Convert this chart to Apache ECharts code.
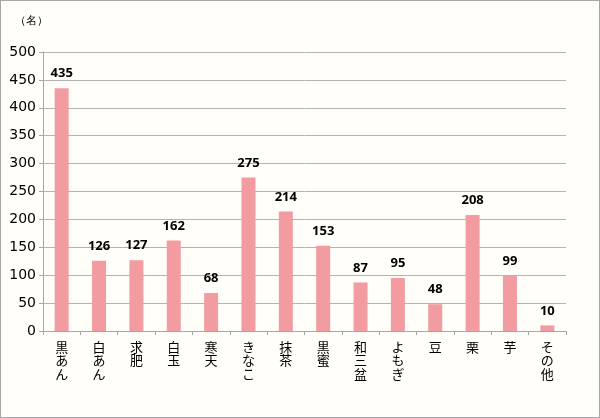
<!DOCTYPE html>
<html><head><meta charset="utf-8">
<script src="https://cdn.jsdelivr.net/npm/echarts@6/dist/echarts.min.js"></script>
<style>
html,body{margin:0;padding:0;background:#fff;}
#c{position:absolute;left:0;top:0;width:598px;height:416px;border:1px solid #a6a6a6;background:#fffef8;}
</style></head><body>
<div id="c"></div>
<script>
const categories = ['黒あん','白あん','求肥','白玉','寒天','きなこ','抹茶','黒蜜','和三盆','よもぎ','豆','栗','芋','その他'];
const values = [435,126,127,162,68,275,214,153,87,95,48,208,99,10];
const unitLabel = '（名）';
const chart = echarts.init(document.getElementById('c'));
const font = '"Noto Sans CJK JP", "Noto Sans", sans-serif';
chart.setOption({
  backgroundColor: 'transparent',
  animation: false,
  textStyle: {fontFamily: font},
  graphic: [{type:'text', left: 14, top: 14, style:{text: unitLabel, fontSize: 11, fill:'#000', font: '11px ' + font}}],
  grid: {left: 42, right: 33, top: 51, bottom: 86, containLabel: false},
  xAxis: {
    type: 'category', data: categories,
    axisLine: {lineStyle: {color: '#a6a6a6', width: 1}},
    axisTick: {show: true, length: 4, lineStyle: {color: '#a6a6a6'}},
    axisLabel: {
      interval: 0, color: '#000', fontSize: 13, lineHeight: 13.5, margin: 9, fontFamily: font,
      formatter: v => v.split('').join('\n'), verticalAlign: 'top'
    }
  },
  yAxis: {
    type: 'value', min: 0, max: 500, interval: 50,
    axisLine: {show: true, lineStyle: {color: '#a6a6a6'}},
    axisTick: {show: true, length: 4, lineStyle: {color: '#a6a6a6'}},
    splitLine: {lineStyle: {color: '#b3b3b3', width: 1}},
    axisLabel: {color: '#000', fontSize: 14, margin: 7, fontFamily: '"DejaVu Sans", sans-serif'}
  },
  series: [{
    type: 'bar', data: values, barWidth: 14,
    itemStyle: {color: '#f29ca2'},
    label: {show: true, position: 'top', color: '#000', fontWeight: 'bold', fontSize: 13, distance: 8, fontFamily: '"Open Sans", sans-serif'}
  }]
});
</script></body></html>
